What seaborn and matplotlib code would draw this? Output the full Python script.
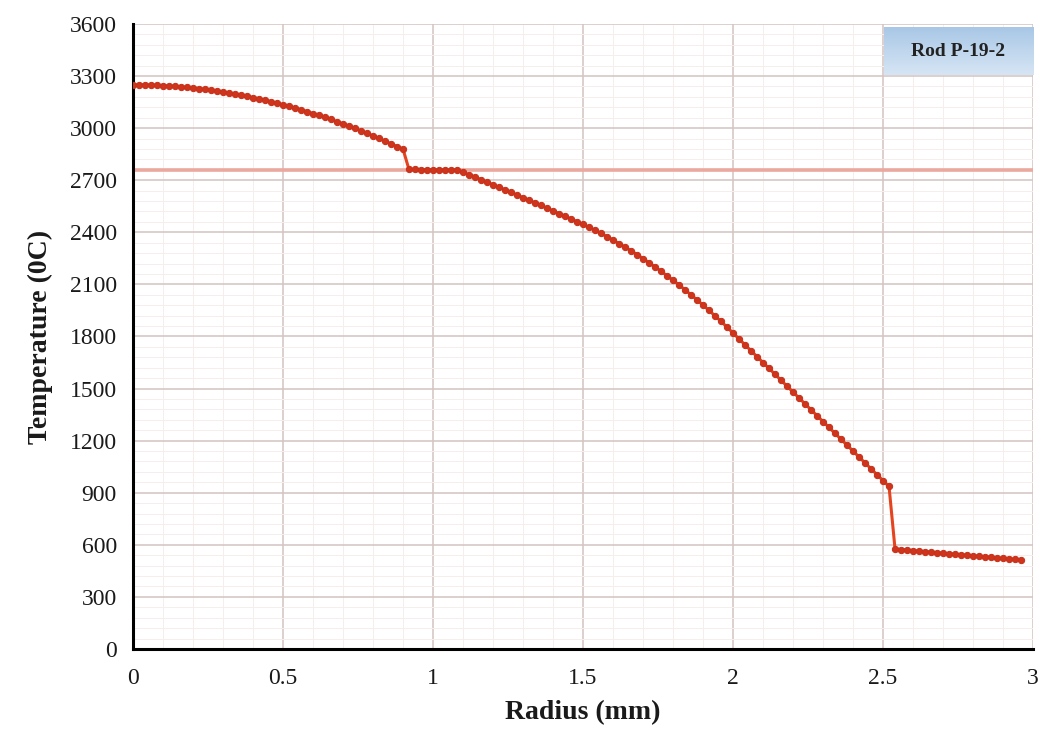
import numpy as np
import pandas as pd
import matplotlib
matplotlib.use("Agg")
import matplotlib.pyplot as plt
import seaborn as sns
from matplotlib.colors import LinearSegmentedColormap
from matplotlib.ticker import MultipleLocator

# Radial temperature profile
r_pellet = [0.00, 0.02, 0.04, 0.06, 0.08, 0.10, 0.12, 0.14, 0.16, 0.18,
            0.20, 0.22, 0.24, 0.26, 0.28, 0.30, 0.32, 0.34, 0.36, 0.38,
            0.40, 0.42, 0.44, 0.46, 0.48, 0.50, 0.52, 0.54, 0.56, 0.58,
            0.60, 0.62, 0.64, 0.66, 0.68, 0.70, 0.72, 0.74, 0.76, 0.78,
            0.80, 0.82, 0.84, 0.86, 0.88, 0.90]
t_pellet = [3250, 3250, 3249, 3248, 3247, 3245, 3243, 3241, 3238, 3235,
            3232, 3228, 3224, 3219, 3214, 3209, 3203, 3197, 3190, 3184,
            3176, 3169, 3161, 3153, 3144, 3135, 3126, 3116, 3106, 3095,
            3084, 3073, 3062, 3050, 3037, 3025, 3012, 2998, 2984, 2970,
            2956, 2941, 2925, 2910, 2894, 2880]

r_gap = [0.92, 0.94, 0.96, 0.98, 1.00, 1.02, 1.04, 1.06, 1.08]
t_gap = [2762, 2762, 2761, 2761, 2761, 2760, 2760, 2760, 2759]

r_outer = [1.10, 1.12, 1.14, 1.16, 1.18, 1.20, 1.22, 1.24, 1.26, 1.28,
           1.30, 1.32, 1.34, 1.36, 1.38, 1.40, 1.42, 1.44, 1.46, 1.48,
           1.50, 1.52, 1.54, 1.56, 1.58, 1.60, 1.62, 1.64, 1.66, 1.68,
           1.70, 1.72, 1.74, 1.76, 1.78, 1.80, 1.82, 1.84, 1.86, 1.88,
           1.90, 1.92, 1.94, 1.96, 1.98, 2.00, 2.02, 2.04, 2.06, 2.08,
           2.10, 2.12, 2.14, 2.16, 2.18, 2.20, 2.22, 2.24, 2.26, 2.28,
           2.30, 2.32, 2.34, 2.36, 2.38, 2.40, 2.42, 2.44, 2.46, 2.48,
           2.50, 2.52]
t_outer = [2746, 2732, 2718, 2703, 2689, 2674, 2660, 2645, 2630, 2615,
           2600, 2585, 2570, 2555, 2539, 2524, 2508, 2493, 2477, 2461,
           2445, 2429, 2412, 2394, 2375, 2356, 2335, 2315, 2294, 2272,
           2249, 2225, 2201, 2176, 2150, 2124, 2097, 2069, 2040, 2011,
           1981, 1950, 1919, 1887, 1854, 1820, 1786, 1752, 1718, 1684,
           1650, 1616, 1582, 1548, 1514, 1480, 1446, 1412, 1378, 1344,
           1310, 1276, 1242, 1208, 1174, 1140, 1106, 1072, 1038, 1004,
           970, 936]

r_coolant = [2.54, 2.56, 2.58, 2.60, 2.62, 2.64, 2.66, 2.68, 2.70, 2.72,
             2.74, 2.76, 2.78, 2.80, 2.82, 2.84, 2.86, 2.88, 2.90, 2.92,
             2.94, 2.96]
t_coolant = [576, 573, 570, 567, 564, 561, 558, 555, 552, 549,
             546, 543, 540, 537, 534, 531, 528, 525, 522, 519,
             516, 513]

ref_temp = 2760
legend_text = "Rod P-19-2"
x_ticks = [0, 0.5, 1, 1.5, 2, 2.5, 3]
x_ticklabels = ["0", "0.5", "1", "1.5", "2", "2.5", "3"]

df = pd.DataFrame({
    "radius": r_pellet + r_gap + r_outer + r_coolant,
    "temp": t_pellet + t_gap + t_outer + t_coolant,
})

sns.set_theme(style="white")
plt.rcParams["font.family"] = ["Liberation Serif", "DejaVu Serif"]

fig = plt.figure(figsize=(10.42, 7.40), dpi=100)
ax = fig.add_axes([0.1276, 0.123, 0.8638, 0.8446])

ax.set_xlim(0, 3)
ax.set_ylim(0, 3600)
ax.xaxis.set_major_locator(MultipleLocator(0.5))
ax.yaxis.set_major_locator(MultipleLocator(300))
ax.xaxis.set_minor_locator(MultipleLocator(0.1))
ax.yaxis.set_minor_locator(MultipleLocator(60))
ax.grid(which="major", color="#d3c4c1", linewidth=1.1)
ax.grid(which="minor", color="#f5eeed", linewidth=0.7)
ax.set_axisbelow(True)

ax.axhline(ref_temp, color="#eba89e", linewidth=2.6, zorder=2)

sns.lineplot(data=df, x="radius", y="temp", ax=ax, sort=False,
             color="#e4441f", linewidth=2.2, marker="o", markersize=4.5,
             markeredgecolor="#c8321b", markerfacecolor="#cf341c", zorder=3)

for side in ["top", "right"]:
    ax.spines[side].set_visible(False)
for side in ["left", "bottom"]:
    ax.spines[side].set_color("black")
    ax.spines[side].set_linewidth(2.2)

ax.tick_params(axis="both", which="major", direction="inout", length=9,
               width=2, color="black", labelsize=17, labelcolor="#1a1a1a")
ax.tick_params(axis="x", which="major", pad=9)
ax.tick_params(axis="y", which="major", pad=7)
ax.tick_params(which="minor", length=0)
ax.set_xticks(x_ticks)
ax.set_xticklabels(x_ticklabels)

ax.set_xlabel("Radius (mm)", fontsize=20, fontweight="bold", color="#1a1a1a", labelpad=8)
ax.set_ylabel("Temperature (0C)", fontsize=20, fontweight="bold", color="#1a1a1a", labelpad=12)

# gradient legend box in the top-right corner
box = ax.inset_axes([0.834, 0.918, 0.166, 0.077])
cmap = LinearSegmentedColormap.from_list("box", ["#a8c7e6", "#d6e5f4"])
box.imshow(np.linspace(0, 1, 50).reshape(-1, 1), aspect="auto", cmap=cmap,
           extent=[0, 1, 0, 1], origin="upper")
box.set_xlim(0, 1)
box.set_ylim(0, 1)
box.set_xticks([])
box.set_yticks([])
for sp in box.spines.values():
    sp.set_visible(False)
box.text(0.5, 0.5, legend_text, ha="center", va="center", fontsize=14,
         fontweight="bold", color="#222222")

fig.savefig("out.png", dpi=100)
